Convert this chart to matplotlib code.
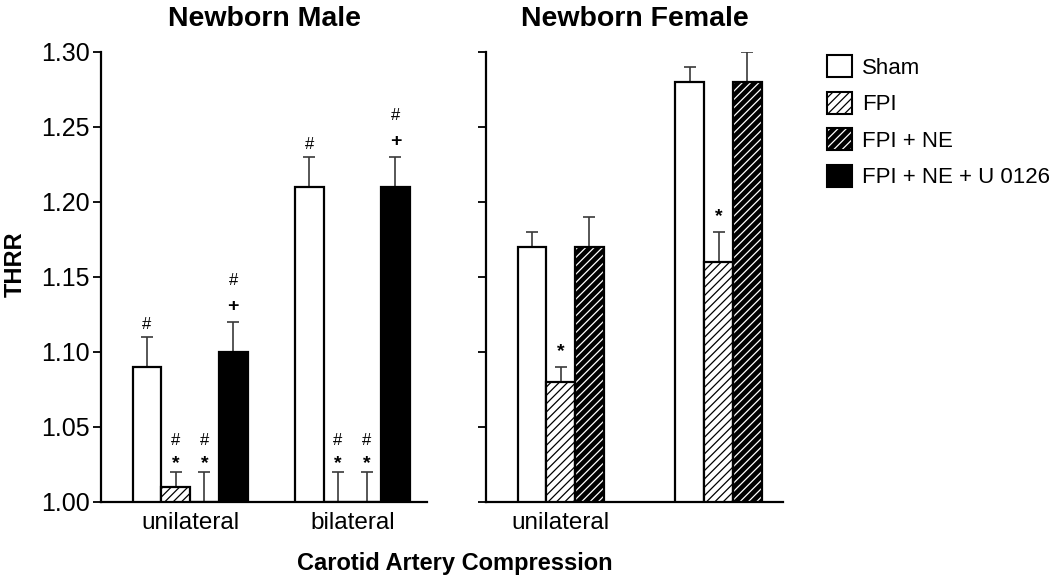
import numpy as np
import matplotlib
matplotlib.use("Agg")
import matplotlib.pyplot as plt
from matplotlib.patches import Patch
from matplotlib.legend_handler import HandlerTuple

plt.rcParams['font.family'] = ['Liberation Sans', 'DejaVu Sans']
plt.rcParams['hatch.linewidth'] = 0.9

groups = ['Sham', 'FPI', 'FPI + NE', 'FPI + NE + U 0126']

# newborn male: unilateral, bilateral
male_labels = ['unilateral', 'bilateral']
male_vals = np.array([[1.09, 1.01, 1.00, 1.10],
                      [1.21, 1.00, 1.00, 1.21]])
male_err = np.array([[0.02, 0.01, 0.02, 0.02],
                     [0.02, 0.02, 0.02, 0.02]])
# significance marks, listed bottom to top
male_marks = [[['#'], ['*', '#'], ['*', '#'], ['+', '#']],
              [['#'], ['*', '#'], ['*', '#'], ['+', '#']]]

# newborn female (no U 0126 group)
female_labels = ['unilateral', '']
female_vals = np.array([[1.17, 1.08, 1.17],
                        [1.28, 1.16, 1.28]])
female_err = np.array([[0.01, 0.01, 0.02],
                       [0.01, 0.02, 0.02]])
female_marks = [[[], ['*'], []],
                [[], ['*'], []]]

yticks = [1.00, 1.05, 1.10, 1.15, 1.20, 1.25, 1.30]

# text style of each mark and where its glyph centre sits relative to baseline (px)
mark_style = {'#': (12, 'normal', 6.0), '*': (14, 'bold', 11.0), '+': (14, 'bold', 6.5)}


def draw_bar(ax, x, v, k):
    h = v - 1.0
    if k == 0:
        ax.bar(x, h, 1.0, bottom=1.0, color='white', edgecolor='black', linewidth=1.6, zorder=3)
    elif k == 1:
        ax.bar(x, h, 1.0, bottom=1.0, color='white', edgecolor='black', hatch='////', linewidth=0, zorder=3)
        ax.bar(x, h, 1.0, bottom=1.0, fill=False, edgecolor='black', linewidth=1.6, zorder=4)
    elif k == 2:
        ax.bar(x, h, 1.0, bottom=1.0, color='black', edgecolor='white', hatch='////', linewidth=0, zorder=3)
        ax.bar(x, h, 1.0, bottom=1.0, fill=False, edgecolor='black', linewidth=1.6, zorder=4)
    else:
        ax.bar(x, h, 1.0, bottom=1.0, color='black', edgecolor='black', linewidth=1.6, zorder=3)


def put_marks(ax, x, top, marks, single_star):
    # centre height above the error cap, px
    if len(marks) == 1:
        cs = [14] if marks[0] == '#' else [single_star]
    elif marks[0] == '*':
        cs = [15, 33]
    else:
        cs = [17, 43]
    for m, c in zip(marks, cs):
        fs, fw, mid = mark_style[m]
        ax.annotate(m, (x, top), xytext=(0, (c - mid) * 0.72), textcoords='offset points',
                    ha='center', va='baseline', fontsize=fs, fontweight=fw)


def panel(ax, centers, vals, errs, marks, labels, xmax, single_star):
    n = vals.shape[1]
    for gi, c in enumerate(centers):
        xs = c + np.arange(n) - (n - 1) / 2
        for k in range(n):
            draw_bar(ax, xs[k], vals[gi, k], k)
            ax.errorbar(xs[k], vals[gi, k], yerr=[[0], [errs[gi, k]]], fmt='none',
                        ecolor='#3a3a3a', elinewidth=1.2, capsize=4.5, capthick=1.2, zorder=2)
            if marks[gi][k]:
                put_marks(ax, xs[k], vals[gi, k] + errs[gi, k], marks[gi][k], single_star)
    ax.set_xlim(0, xmax)
    ax.set_ylim(1.0, 1.30)
    ax.set_yticks(yticks)
    ax.set_xticks(centers)
    ax.set_xticklabels(labels, fontsize=17.5)
    ax.tick_params(axis='x', length=0, pad=7)
    ax.tick_params(axis='y', length=6, width=1.3, direction='out', pad=2, labelsize=18)
    for s in ['top', 'right']:
        ax.spines[s].set_visible(False)
    for s in ['left', 'bottom']:
        ax.spines[s].set_linewidth(1.6)


fig = plt.figure(figsize=(10.5, 5.81), dpi=100)
ax1 = fig.add_axes([0.0962, 0.136, 0.3105, 0.7745])
ax2 = fig.add_axes([0.4629, 0.136, 0.2829, 0.7745])

panel(ax1, [3.1, 8.75], male_vals, male_err, male_marks, male_labels, 11.35, 15)
panel(ax2, [2.6, 8.1], female_vals, female_err, female_marks, female_labels, 10.35, 22)
ax1.set_yticklabels(['%.2f' % t for t in yticks])
ax2.set_yticklabels([])

ax1.set_title('Newborn Male', fontsize=20.5, fontweight='bold', pad=19)
ax2.set_title('Newborn Female', fontsize=20.5, fontweight='bold', pad=19)
fig.text(0.015, 0.545, 'THRR', rotation=90, fontsize=17, fontweight='bold', ha='center', va='center')
fig.text(0.433, 0.03, 'Carotid Artery Compression', fontsize=17, fontweight='bold', ha='center', va='center')

h_sham = Patch(facecolor='white', edgecolor='black', linewidth=1.5)
h_fpi = (Patch(facecolor='white', edgecolor='black', hatch='////', linewidth=0),
         Patch(fill=False, edgecolor='black', linewidth=1.5))
h_ne = (Patch(facecolor='black', edgecolor='white', hatch='////', linewidth=0),
        Patch(fill=False, edgecolor='black', linewidth=1.5))
h_u = Patch(facecolor='black', edgecolor='black', linewidth=1.5)
fig.legend([h_sham, h_fpi, h_ne, h_u], groups, loc='upper left',
           bbox_to_anchor=(0.779, 0.92), frameon=False, fontsize=16,
           handlelength=1.15, handleheight=1.15, handletextpad=0.45, labelspacing=0.58,
           borderaxespad=0, handler_map={tuple: HandlerTuple(ndivide=1, pad=0)})

fig.savefig('out.png', dpi=100)
